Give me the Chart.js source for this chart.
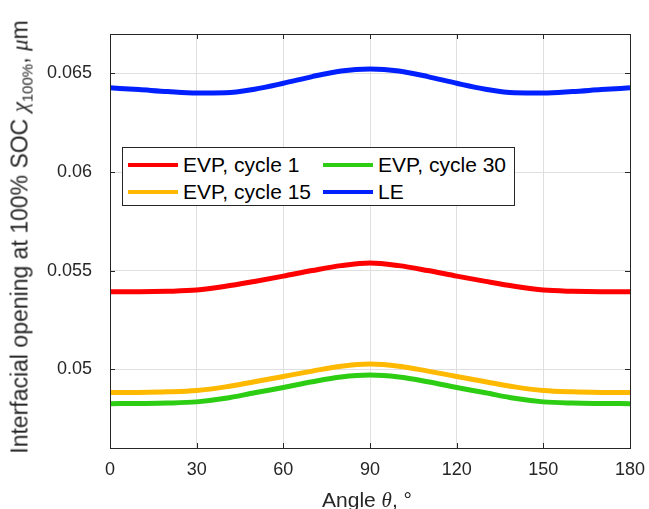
<!DOCTYPE html>
<html>
<head>
<meta charset="utf-8">
<script src="https://cdn.jsdelivr.net/npm/chart.js@4.4.0/dist/chart.umd.min.js"></script>
<style>
  html, body { margin: 0; padding: 0; background: #fff; }
  #wrap { position: relative; width: 649px; height: 509px; overflow: hidden; font-family: "Liberation Sans", Arial, sans-serif; color: #262626; }
  #chart { position: absolute; left: 0; top: 0; }
  .ytitle { position: absolute; left: 21px; top: 237px; transform: translate(-50%, -50%) rotate(-90deg); white-space: nowrap; font-size: 23px; }
  .xtitle { position: absolute; left: 367px; top: 500px; transform: translate(-50%, -50%); white-space: nowrap; font-size: 21px; }
  .tex { font-family: "Liberation Serif", serif; font-style: italic; }
  sub { font-size: 15px; vertical-align: -5px; }
  #legend { position: absolute; left: 122px; top: 147px; width: 391px; height: 57px; border: 1px solid #262626; background: #fff; }
  .item { position: absolute; height: 26px; line-height: 26px; font-size: 21px; white-space: nowrap; color: #000; }
  .item span.sw { display: inline-block; width: 50px; height: 4px; vertical-align: middle; margin-right: 5px; position: relative; top: -1px; }
</style>
</head>
<body>
<div id="wrap">
  <canvas id="chart" width="649" height="509"></canvas>
  <div class="ytitle">Interfacial opening at 100% SOC <span class="tex">χ</span><sub>100%</sub>, <span class="tex">μ</span>m</div>
  <div class="xtitle">Angle <span class="tex">θ</span>, °</div>
  <div id="legend"></div>
</div>
<script>
// Góc (độ)
const angles = [0, 10, 20, 30, 40, 50, 60, 70, 80, 90, 100, 110, 120, 130, 140, 150, 160, 170, 180];

// Giá trị
const evpCycle1  = [0.05393, 0.05393, 0.05395, 0.05401, 0.05420, 0.05445, 0.05472, 0.05500, 0.05525, 0.05539,
                    0.05525, 0.05500, 0.05472, 0.05445, 0.05420, 0.05401, 0.05395, 0.05393, 0.05393];
const evpCycle15 = [0.04881, 0.04882, 0.04885, 0.04892, 0.04910, 0.04936, 0.04963, 0.04990, 0.05015, 0.05026,
                    0.05015, 0.04990, 0.04963, 0.04936, 0.04910, 0.04892, 0.04885, 0.04882, 0.04881];
const evpCycle30 = [0.04825, 0.04826, 0.04828, 0.04834, 0.04852, 0.04880, 0.04907, 0.04936, 0.04960, 0.04970,
                    0.04960, 0.04936, 0.04907, 0.04880, 0.04852, 0.04834, 0.04828, 0.04826, 0.04825];
const le         = [0.06427, 0.06418, 0.06408, 0.06401, 0.06402, 0.06420, 0.06450, 0.06484, 0.06512, 0.06522,
                    0.06512, 0.06484, 0.06450, 0.06420, 0.06402, 0.06401, 0.06408, 0.06418, 0.06427];

const xTicks = [0, 30, 60, 90, 120, 150, 180];
const yTicks = [0.05, 0.055, 0.06, 0.065];

const series = [
  { label: 'EVP, cycle 1',  data: evpCycle1,  color: 'rgb(255,0,0)' },
  { label: 'EVP, cycle 15', data: evpCycle15, color: 'rgb(255,185,0)' },
  { label: 'EVP, cycle 30', data: evpCycle30, color: 'rgb(45,205,20)' },
  { label: 'LE',            data: le,         color: 'rgb(0,32,255)' }
];

// Khung + vạch chia hướng vào trong (kiểu MATLAB)
const boxPlugin = {
  id: 'box',
  afterDatasetsDraw(chart) {
    const { ctx, chartArea: a, scales: { x, y } } = chart;
    ctx.save();
    ctx.strokeStyle = '#262626';
    ctx.lineWidth = 1;
    ctx.strokeRect(a.left + 0.5, a.top + 0.5, a.right - a.left, a.bottom - a.top);
    ctx.beginPath();
    xTicks.forEach(v => {
      const px = Math.round(x.getPixelForValue(v)) + 0.5;
      ctx.moveTo(px, a.bottom); ctx.lineTo(px, a.bottom - 5);
      ctx.moveTo(px, a.top); ctx.lineTo(px, a.top + 5);
    });
    yTicks.forEach(v => {
      const py = Math.round(y.getPixelForValue(v)) + 0.5;
      ctx.moveTo(a.left, py); ctx.lineTo(a.left + 5, py);
      ctx.moveTo(a.right, py); ctx.lineTo(a.right - 5, py);
    });
    ctx.stroke();
    ctx.restore();
  }
};

new Chart(document.getElementById('chart'), {
  type: 'line',
  data: {
    datasets: series.map(s => ({
      label: s.label,
      data: angles.map((a, i) => ({ x: a, y: s.data[i] })),
      borderColor: s.color,
      borderWidth: 5,
      pointRadius: 0,
      fill: false,
      cubicInterpolationMode: 'monotone'
    }))
  },
  options: {
    responsive: false,
    animation: false,
    layout: { padding: { top: 34, right: 19, left: 0, bottom: 0 } },
    plugins: { legend: { display: false }, tooltip: { enabled: false } },
    scales: {
      x: {
        type: 'linear', min: 0, max: 180,
        afterBuildTicks: s => { s.ticks = xTicks.map(v => ({ value: v })); },
        afterFit: s => { s.height = 61; s.paddingLeft = 0; s.paddingRight = 0; },
        grid: { color: '#dfdfdf', drawTicks: false },
        border: { display: false },
        ticks: { padding: 11, color: '#262626', font: { family: 'Liberation Sans', size: 18 }, maxRotation: 0 }
      },
      y: {
        type: 'linear', min: 0.046, max: 0.067,
        afterBuildTicks: s => { s.ticks = yTicks.map(v => ({ value: v })); },
        afterFit: s => { s.width = 110; s.paddingTop = 0; s.paddingBottom = 0; },
        grid: { color: '#dfdfdf', drawTicks: false },
        border: { display: false },
        ticks: { padding: 18, color: '#262626', font: { family: 'Liberation Sans', size: 18 },
                 callback: v => String(Number(v.toFixed(4))) }
      }
    }
  },
  plugins: [boxPlugin]
});

// Chú thích 2 cột (theo cột: 1, 15 | 30, LE)
const legendPos = [
  { left: 5, top: 4 }, { left: 5, top: 31 },
  { left: 200, top: 4 }, { left: 200, top: 31 }
];
const legendDiv = document.getElementById('legend');
series.forEach((s, i) => {
  const d = document.createElement('div');
  d.className = 'item';
  d.style.left = legendPos[i].left + 'px';
  d.style.top = legendPos[i].top + 'px';
  d.innerHTML = '<span class="sw" style="background:' + s.color + '"></span>' + s.label;
  legendDiv.appendChild(d);
});
</script>
</body>
</html>
